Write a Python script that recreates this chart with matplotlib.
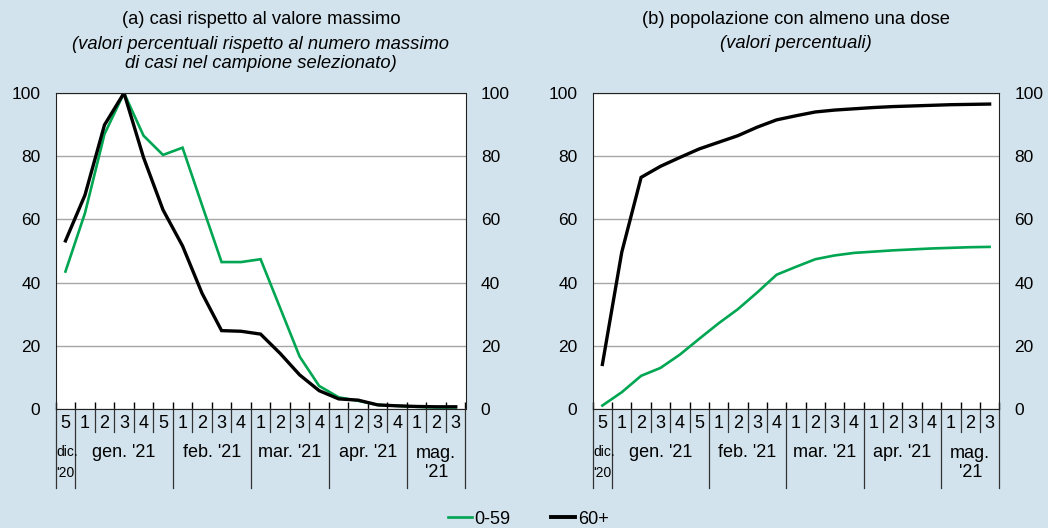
import matplotlib
matplotlib.use("Agg")
import matplotlib.pyplot as plt
import matplotlib.transforms as mtransforms
from matplotlib.lines import Line2D

plt.rcParams["font.family"] = ["Liberation Sans", "DejaVu Sans"]

BG = "#d3e3ed"
GREEN = "#00a651"
BLACK = "#000000"

# weeks on the x axis, grouped by month
months = ["dic.\n'20", "gen. '21", "feb. '21", "mar. '21", "apr. '21", "mag.\n'21"]
month_weeks = [[5], [1, 2, 3, 4, 5], [1, 2, 3, 4], [1, 2, 3, 4], [1, 2, 3, 4], [1, 2, 3]]

# (a) cases relative to the maximum (%)
cases_young = [43.5, 62, 87, 100, 86.5, 80.4, 82.7, 64.5, 46.5, 46.5, 47.4,
               32, 16.6, 7.3, 3.7, 2.6, 1.3, 1.0, 0.7, 0.5, 0.5]
cases_old = [53.2, 67.7, 89.9, 100, 79.6, 63, 51.6, 36.6, 24.8, 24.6, 23.7,
             17.6, 10.8, 5.8, 3.2, 2.8, 1.3, 1.0, 0.8, 0.7, 0.7]

# (b) population with at least one dose (%)
dose_young = [1.1, 5.3, 10.5, 13, 17.2, 22.2, 27.1, 31.6, 36.9, 42.5, 45,
              47.4, 48.6, 49.4, 49.8, 50.2, 50.5, 50.8, 51.0, 51.2, 51.3]
dose_old = [14.1, 49.6, 73.3, 76.8, 79.6, 82.3, 84.4, 86.5, 89.2, 91.5, 92.8,
            94.0, 94.6, 95.0, 95.4, 95.7, 95.9, 96.1, 96.3, 96.4, 96.5]

W, H = 1048, 528
fig = plt.figure(figsize=(W / 100, H / 100), dpi=100, facecolor=BG)


def px_axes(x0, x1, ytop, ybot):
    return fig.add_axes([x0 / W, (H - ybot) / H, (x1 - x0) / W, (ybot - ytop) / H])


def draw_panel(ax, young, old):
    n = len(young)
    x = list(range(n))
    ax.set_facecolor("white")
    ax.set_xlim(-0.5, n - 0.5)
    ax.set_ylim(0, 100)
    ax.set_yticks([0, 20, 40, 60, 80, 100])
    ax.tick_params(axis="y", length=0, pad=11, labelsize=12.5, labelright=True)
    ax.grid(axis="y", color="#a6a6a6", linewidth=1)
    ax.set_axisbelow(True)
    for s in ax.spines.values():
        s.set_linewidth(0.8)
        s.set_color("#222222")

    # week boundaries as small inward ticks
    bounds = [i - 0.5 for i in range(n + 1)]
    ax.set_xticks(bounds)
    ax.set_xticklabels([])
    ax.tick_params(axis="x", direction="in", length=5, width=1, color="black")

    ax.plot(x, young, color=GREEN, linewidth=1.9, solid_joinstyle="miter")
    ax.plot(x, old, color=BLACK, linewidth=2.4, solid_joinstyle="miter")

    trans = mtransforms.blended_transform_factory(ax.transData, ax.transAxes)
    pos = 0
    month_edges = [-0.5]
    for label, weeks in zip(months, month_weeks):
        for j, wk in enumerate(weeks):
            ax.text(pos, -0.046, str(wk), transform=trans, ha="center", va="center",
                    fontsize=13, clip_on=False)
            if j > 0:
                ax.add_line(Line2D([pos - 0.5, pos - 0.5], [0, -0.073], transform=trans,
                                   color="#333333", linewidth=0.9, clip_on=False))
            pos += 1
        start = month_edges[-1]
        end = pos - 0.5
        month_edges.append(end)
        if len(weeks) == 1:
            ax.text(start + 0.03, -0.17, label, transform=trans, ha="left", va="center",
                    fontsize=10, linespacing=1.6, clip_on=False)
        elif "\n" in label:
            ax.text((start + end) / 2, -0.17, label, transform=trans, ha="center",
                    va="center", fontsize=13, linespacing=1.15, clip_on=False)
        else:
            ax.text((start + end) / 2, -0.139, label, transform=trans, ha="center",
                    va="center", fontsize=13, clip_on=False)
    for e in month_edges:
        ax.add_line(Line2D([e, e], [0, -0.25], transform=trans, color="#333333",
                           linewidth=0.9, clip_on=False))


ax1 = px_axes(55.7, 465.5, 93, 409)
draw_panel(ax1, cases_young, cases_old)
ax2 = px_axes(592.7, 999.3, 93, 409)
draw_panel(ax2, dose_young, dose_old)

fig.text(261 / W, 1 - 20 / H, "(a) casi rispetto al valore massimo", ha="center",
         va="center", fontsize=13.2)
fig.text(261 / W, 1 - 54 / H,
         "(valori percentuali rispetto al numero massimo\ndi casi nel campione selezionato)",
         ha="center", va="center", fontsize=13.2, style="italic", linespacing=1.1)
fig.text(796 / W, 1 - 20 / H, "(b) popolazione con almeno una dose", ha="center",
         va="center", fontsize=13.2)
fig.text(796 / W, 1 - 44 / H, "(valori percentuali)", ha="center", va="center",
         fontsize=13.2, style="italic")

handles = [Line2D([], [], color=GREEN, linewidth=1.9),
           Line2D([], [], color=BLACK, linewidth=2.8)]
fig.legend(handles, ["0-59", "60+"], loc="center", bbox_to_anchor=(528 / W, 9 / H),
           ncol=2, frameon=False, fontsize=13, handlelength=1.35, handletextpad=0.15,
           columnspacing=2.2, borderaxespad=0, borderpad=0)

fig.savefig("out.png", dpi=100, facecolor=BG)
